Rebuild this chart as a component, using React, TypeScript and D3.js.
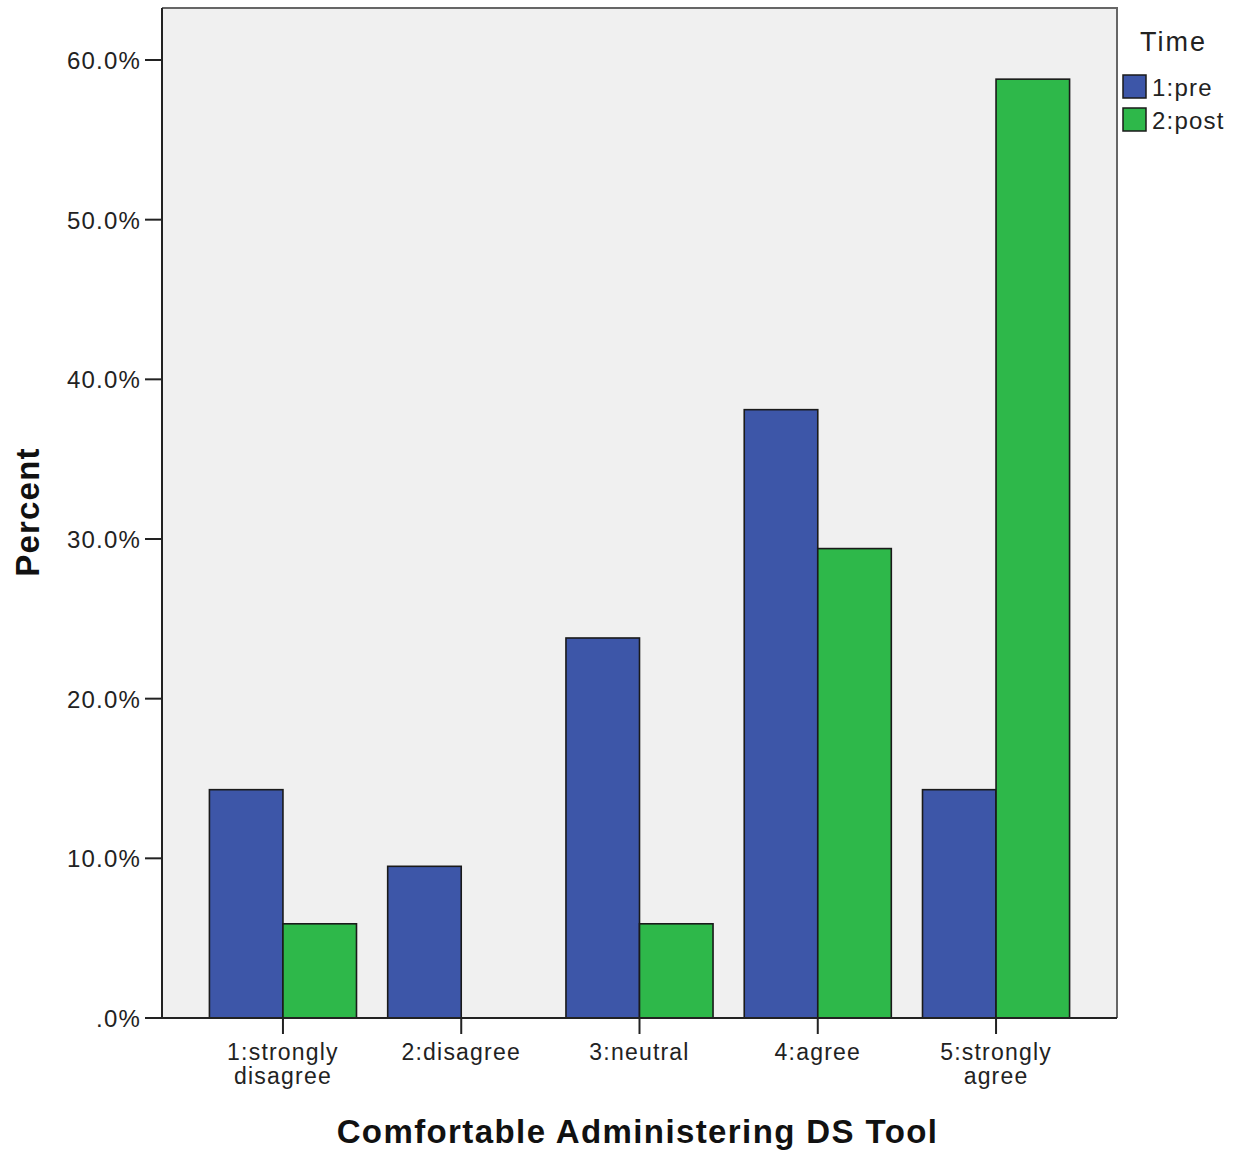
import { useEffect, useRef } from 'react';
import * as d3 from 'd3';

const categories = ['1:strongly disagree', '2:disagree', '3:neutral', '4:agree', '5:strongly agree'];
const tickLines = [['1:strongly', 'disagree'], ['2:disagree'], ['3:neutral'], ['4:agree'], ['5:strongly', 'agree']];
const series = ['1:pre', '2:post'];
const preValues = [14.3, 9.5, 23.8, 38.1, 14.3];
const postValues = [5.9, 0, 5.9, 29.4, 58.8];
const yTicks = [0, 10, 20, 30, 40, 50, 60];
const colors = ['#3d56a8', '#2eb84a'];

export default function App() {
  const svgRef = useRef<SVGSVGElement>(null);

  useEffect(() => {
    if (!svgRef.current) return;
    const width = 1239;
    const height = 1153;
    const margin = { top: 8, right: 122, bottom: 135, left: 162 };
    const font = '"Liberation Sans", Arial, sans-serif';

    const svg = d3.select(svgRef.current);
    svg.selectAll('*').remove();

    const chartWidth = width - margin.left - margin.right;
    const chartHeight = height - margin.top - margin.bottom;

    const x = d3.scaleBand<string>().domain(categories).range([0, chartWidth])
      .paddingInner(0.175).paddingOuter(0.266);
    const xSub = d3.scaleBand<string>().domain(series).range([0, x.bandwidth()]);
    // 0% at 1018, 60% at 60
    const y = d3.scaleLinear().domain([0, 60]).range([chartHeight, 60 - margin.top]);

    const chart = svg.append('g').attr('transform', `translate(${margin.left},${margin.top})`);

    chart.append('rect').attr('width', chartWidth).attr('height', chartHeight).attr('fill', '#f0f0f0');
    // gray frame top/right
    chart.append('path').attr('d', `M0,0H${chartWidth}V${chartHeight}`)
      .attr('fill', 'none').attr('stroke', '#666').attr('stroke-width', 2);

    const groups = chart.selectAll('g.cat').data(categories).enter().append('g')
      .attr('transform', (d) => `translate(${x(d)},0)`);

    groups.each(function (_, i) {
      const g = d3.select(this);
      const vals = [preValues[i], postValues[i]];
      g.selectAll('rect').data(series).enter().append('rect')
        .attr('x', (s) => xSub(s)!)
        .attr('y', (s, j) => y(vals[j]))
        .attr('width', xSub.bandwidth())
        .attr('height', (s, j) => chartHeight - y(vals[j]))
        .attr('fill', (s, j) => colors[j])
        .attr('stroke', '#1a1a1a').attr('stroke-width', 1.6);
    });

    // y axis
    const yAxis = chart.append('g');
    yAxis.append('line').attr('x1', 0).attr('x2', 0).attr('y1', 0).attr('y2', chartHeight)
      .attr('stroke', '#222').attr('stroke-width', 2);
    const yt = yAxis.selectAll('g').data(yTicks).enter().append('g')
      .attr('transform', (d) => `translate(0,${y(d)})`);
    yt.append('line').attr('x1', -17).attr('x2', 0).attr('stroke', '#222').attr('stroke-width', 2);
    yt.append('text').attr('x', -21).attr('dy', '0.38em').attr('text-anchor', 'end')
      .attr('font-family', font).attr('font-size', 24).attr('letter-spacing', 1.2).attr('fill', '#222')
      .text((d) => (d === 0 ? '.0%' : `${d.toFixed(1)}%`));

    // x axis
    const xAxis = chart.append('g').attr('transform', `translate(0,${chartHeight})`);
    xAxis.append('line').attr('x1', 0).attr('x2', chartWidth).attr('stroke', '#222').attr('stroke-width', 2);
    const xt = xAxis.selectAll('g').data(categories).enter().append('g')
      .attr('transform', (d) => `translate(${x(d)! + x.bandwidth() / 2},0)`);
    xt.append('line').attr('y1', 0).attr('y2', 16).attr('stroke', '#222').attr('stroke-width', 2);
    xt.each(function (_, i) {
      const t = d3.select(this).append('text').attr('text-anchor', 'middle')
        .attr('font-family', font).attr('font-size', 23).attr('letter-spacing', 1.2).attr('fill', '#222');
      tickLines[i].forEach((line, k) => {
        t.append('tspan').attr('x', 0).attr('y', 42 + k * 24).text(line);
      });
    });

    // axis titles
    svg.append('text').attr('x', margin.left + chartWidth / 2 - 2).attr('y', 1143)
      .attr('text-anchor', 'middle').attr('font-family', font).attr('font-weight', 'bold')
      .attr('font-size', 33).attr('letter-spacing', 1.4).attr('fill', '#111')
      .text('Comfortable Administering DS Tool');
    svg.append('text').attr('transform', 'translate(39,512) rotate(-90)')
      .attr('text-anchor', 'middle').attr('font-family', font).attr('font-weight', 'bold')
      .attr('font-size', 33).attr('letter-spacing', 1.2).attr('fill', '#111')
      .text('Percent');

    // legend
    const legend = svg.append('g').attr('transform', 'translate(1123,0)');
    legend.append('text').attr('x', 17).attr('y', 51).attr('font-family', font)
      .attr('font-size', 27).attr('letter-spacing', 2).attr('fill', '#222').text('Time');
    const li = legend.selectAll('g').data(series).enter().append('g')
      .attr('transform', (d, i) => `translate(0,${75 + i * 33})`);
    li.append('rect').attr('width', 23).attr('height', 23)
      .attr('fill', (d, i) => colors[i]).attr('stroke', '#1a1a1a').attr('stroke-width', 1.5);
    li.append('text').attr('x', 29).attr('y', 21).attr('font-family', font)
      .attr('font-size', 24).attr('letter-spacing', 1.2).attr('fill', '#222').text((d) => d);
  }, []);

  return (
    <svg ref={svgRef} width={1239} height={1153}
      style={{ position: 'absolute', left: 0, top: 0, background: '#fff' }} />
  );
}
